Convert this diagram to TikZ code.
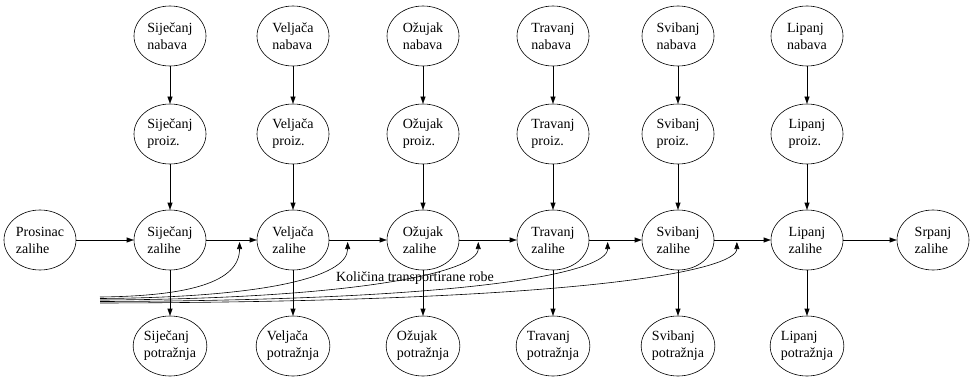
\documentclass[tikz,border=0pt]{standalone}
\usepackage{fontspec}
\setmainfont{Liberation Serif}
\usetikzlibrary{shapes.geometric,arrows.meta}

\begin{document}
\begin{tikzpicture}[x=1pt,y=-1pt,line width=0.6pt,
		mjesec/.style={draw,ellipse,minimum width=72pt,minimum height=60pt,inner sep=0pt,align=left,font=\fontsize{14}{17}\selectfont},
		veza/.style={-{Triangle[length=7pt,width=5pt]}}]
		\useasboundingbox (0,0) rectangle (971,377);
		% nabava
		\node[mjesec] (n1) at (170,36) {Siječanj\\nabava};
		\node[mjesec] (n2) at (293,36) {Veljača\\nabava};
		\node[mjesec] (n3) at (423,36) {Ožujak\\nabava};
		\node[mjesec] (n4) at (553,36) {Travanj\\nabava};
		\node[mjesec] (n5) at (678,36) {Svibanj\\nabava};
		\node[mjesec] (n6) at (807,36) {Lipanj\\nabava};
		% proizvodnja
		\node[mjesec] (p1) at (170,134) {Siječanj\\proiz.};
		\node[mjesec] (p2) at (293,134) {Veljača\\proiz.};
		\node[mjesec] (p3) at (423,134) {Ožujak\\proiz.};
		\node[mjesec] (p4) at (553,134) {Travanj\\proiz.};
		\node[mjesec] (p5) at (678,134) {Svibanj\\proiz.};
		\node[mjesec] (p6) at (807,134) {Lipanj\\proiz.};
		% zalihe
		\node[mjesec] (z0) at (40,240) {Prosinac\\zalihe};
		\node[mjesec] (z1) at (170,240) {Siječanj\\zalihe};
		\node[mjesec] (z2) at (293,240) {Veljača\\zalihe};
		\node[mjesec] (z3) at (423,240) {Ožujak\\zalihe};
		\node[mjesec] (z4) at (553,240) {Travanj\\zalihe};
		\node[mjesec] (z5) at (678,240) {Svibanj\\zalihe};
		\node[mjesec] (z6) at (807,240) {Lipanj\\zalihe};
		\node[mjesec] (z7) at (933,240) {Srpanj\\zalihe};
		% potraznja
		\node[mjesec] (d1) at (170,346) {Siječanj\\potražnja};
		\node[mjesec] (d2) at (293,346) {Veljača\\potražnja};
		\node[mjesec] (d3) at (423,346) {Ožujak\\potražnja};
		\node[mjesec] (d4) at (553,346) {Travanj\\potražnja};
		\node[mjesec] (d5) at (678,346) {Svibanj\\potražnja};
		\node[mjesec] (d6) at (807,346) {Lipanj\\potražnja};

		\draw[veza] (n1) -- (p1);
		\draw[veza] (n2) -- (p2);
		\draw[veza] (n3) -- (p3);
		\draw[veza] (n4) -- (p4);
		\draw[veza] (n5) -- (p5);
		\draw[veza] (n6) -- (p6);
		\draw[veza] (p1) -- (z1);
		\draw[veza] (p2) -- (z2);
		\draw[veza] (p3) -- (z3);
		\draw[veza] (p4) -- (z4);
		\draw[veza] (p5) -- (z5);
		\draw[veza] (p6) -- (z6);
		\draw[veza] (z1) -- (d1);
		\draw[veza] (z2) -- (d2);
		\draw[veza] (z3) -- (d3);
		\draw[veza] (z4) -- (d4);
		\draw[veza] (z5) -- (d5);
		\draw[veza] (z6) -- (d6);

		\draw[veza] (z0) -- (z1);
		\draw[veza] (z1) -- coordinate[pos=0.66] (t1) (z2);
		\draw[veza] (z2) -- coordinate[pos=0.32] (t2) (z3);
		\draw[veza] (z3) -- coordinate[pos=0.33] (t3) (z4);
		\draw[veza] (z4) -- coordinate[pos=0.35] (t4) (z5);
		\draw[veza] (z5) -- coordinate[pos=0.4] (t5) (z6);
		\draw[veza] (z6) -- (z7);

		% transport
		\coordinate (s1) at (100,297);
		\coordinate (s2) at (100,298.5);
		\coordinate (s3) at (100,300);
		\coordinate (s4) at (100,301.5);
		\coordinate (s5) at (100,303);
		\draw[veza] (s1) .. controls +(90,-1) and +(0,40) .. ([yshift=-2pt]t1);
		\draw[veza] (s2) .. controls +(160,-1) and +(0,36) .. ([yshift=-2pt]t2);
		\draw[veza] (s3) .. controls +(250,-1) and +(0,31) .. ([yshift=-2pt]t3);
		\draw[veza] (s4) .. controls +(380,-1) and +(0,30) .. ([yshift=-2pt]t4);
		\draw[veza] (s5) .. controls +(500,-1) and +(0,27) .. ([yshift=-2pt]t5);
		\node[font=\fontsize{14}{17}\selectfont] (kol) at (415,278) {Količina transportirane robe};
	\end{tikzpicture}
\end{document}
